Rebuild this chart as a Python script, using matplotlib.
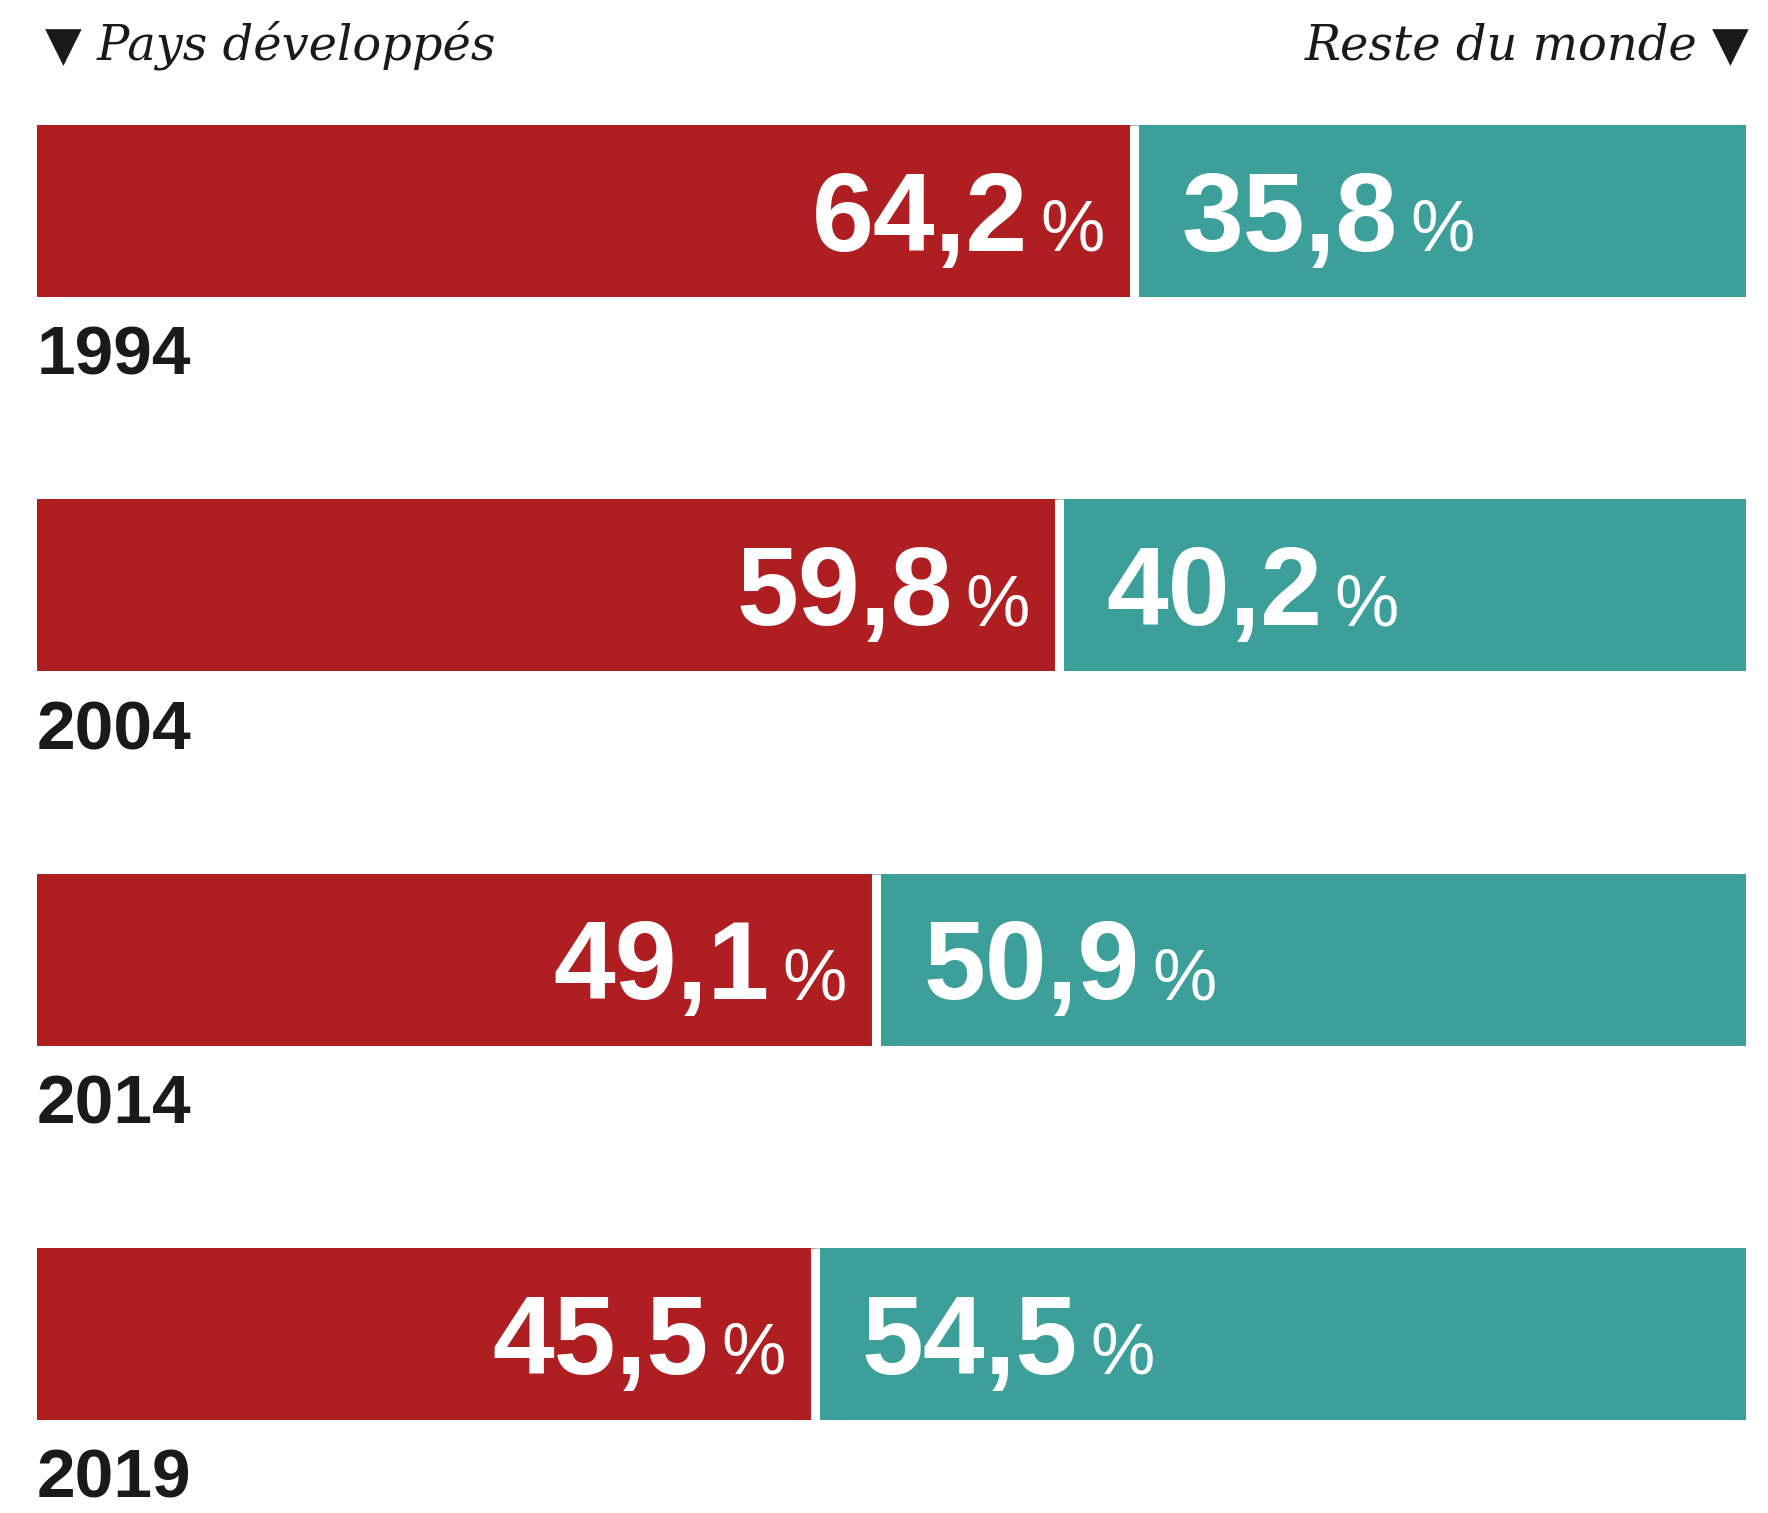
import matplotlib.pyplot as plt
import numpy as np

years = ["1994", "2004", "2014", "2019"]
developed = [64.2, 59.8, 49.1, 45.5]
rest = [35.8, 40.2, 50.9, 54.5]
label_left = "Pays développés"
label_right = "Reste du monde"

red = "#AF1F22"
teal = "#3C9F99"
W, H = 1768, 1513

fig = plt.figure(figsize=(W / 100, H / 100), dpi=100)
ax = fig.add_axes([37 / W, 0, (1746 - 37) / W, 1])
ax.set_xlim(0, 100)
ax.set_ylim(H, 0)
ax.axis("off")

bar_h = 172
centers = 210.5 + np.arange(len(years)) * 374.5

ax.barh(centers, developed, height=bar_h, color=red)
ax.barh(centers, rest, left=developed, height=bar_h, color=teal)
ax.vlines(developed, centers - bar_h / 2, centers + bar_h / 2, color="white", lw=6.5)


def fmt(v):
    return f"{v:.1f}".replace(".", ",")


num_kw = dict(fontsize=80, fontweight="bold", color="white", family="Liberation Sans", va="baseline")
pct_kw = dict(fontsize=52, color="white", family="Liberation Sans", va="baseline")

for y, d, r, yr in zip(centers, developed, rest, years):
    base = y + 40
    # gauche : chiffre + % alignés à droite de la barre rouge
    p = ax.annotate("%", xy=(d, base), xytext=(-21, 0), textcoords="offset points",
                    ha="right", **pct_kw)
    ax.annotate(fmt(d), xy=(0, base), xycoords=(p, "data"), xytext=(-9, 0),
                textcoords="offset points", ha="right", **num_kw)
    # droite
    n = ax.annotate(fmt(r), xy=(d, base), xytext=(34, 0), textcoords="offset points",
                    ha="left", **num_kw)
    ax.annotate("%", xy=(1, base), xycoords=(n, "data"), xytext=(9, 0),
                textcoords="offset points", ha="left", **pct_kw)
    # année
    ax.text(0, y + bar_h / 2 + 78, yr, fontsize=50, fontweight="bold", color="#1a1a1a",
            family="Liberation Sans", va="baseline", ha="left")

hdr_kw = dict(fontsize=34.5, style="italic", color="#1a1a1a", family=["DejaVu Serif"], va="baseline")
fig.text(45 / W, 1 - 59 / H, "▼ " + label_left, ha="left", **hdr_kw)
fig.text(1750 / W, 1 - 59 / H, label_right + " ▼", ha="right", **hdr_kw)

fig.savefig("out.png", dpi=100, facecolor="white")
